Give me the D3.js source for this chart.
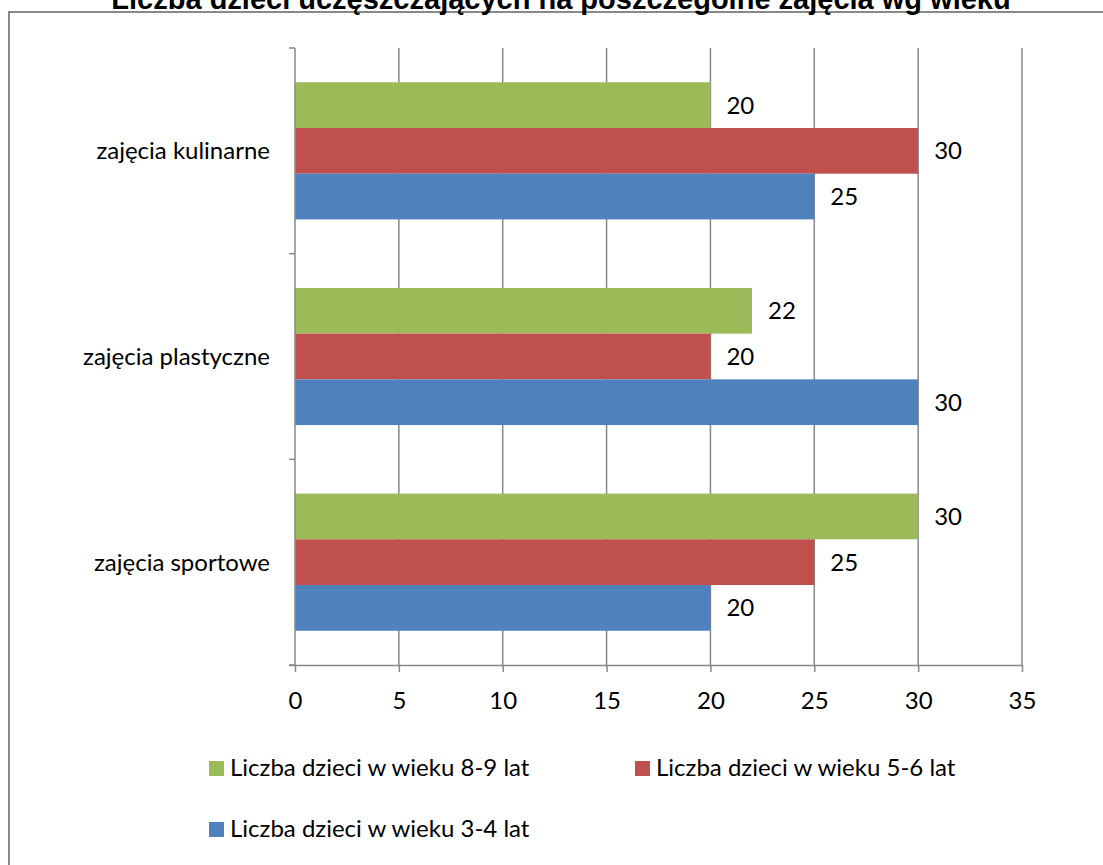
<!DOCTYPE html>
<html><head><meta charset="utf-8">
<script src="https://cdn.jsdelivr.net/npm/d3@7"></script>
<style>
html,body{margin:0;padding:0;background:#fff;}
svg{display:block;}
</style>
</head><body>
<svg id="chart" width="1103" height="865"></svg>
<script>
const title = "Liczba dzieci uczęszczających na poszczególne zajęcia wg wieku";
const categories = ["zajęcia kulinarne", "zajęcia plastyczne", "zajęcia sportowe"];
const seriesNames = ["Liczba dzieci w wieku 8-9 lat", "Liczba dzieci w wieku 5-6 lat", "Liczba dzieci w wieku 3-4 lat"];
const seriesColors = ["#9BBB59", "#C0504D", "#4F81BD"];
const age89 = [20, 22, 30];
const age56 = [30, 20, 25];
const age34 = [25, 30, 20];
const xTicks = [0, 5, 10, 15, 20, 25, 30, 35];

const seriesValues = [age89, age56, age34];
const svg = d3.select("#chart");
const font = "Lato, 'Open Sans', sans-serif";
const fs = 24;

// outer border
svg.append("path").attr("d", "M9,865 L9,12 L1103,12")
  .attr("fill", "none").attr("stroke", "#898989").attr("stroke-width", 2);

// title
svg.append("text").attr("x", 561).attr("y", 9).attr("text-anchor", "middle")
  .attr("font-family", "'Liberation Sans', Arial, sans-serif").attr("font-weight", "bold")
  .attr("font-size", 29).attr("fill", "#000").text(title);

const x = d3.scaleLinear().domain([0, 35]).range([295, 1022]);
const y = d3.scaleBand().domain(categories).range([48, 665]);
const inner = d3.scaleBand().domain(d3.range(3)).range([0, y.bandwidth()]).paddingOuter(0.75).paddingInner(0);

const gridColor = "#888888";

// gridlines
svg.append("g").selectAll("line").data(xTicks.slice(1)).join("line")
  .attr("x1", d => x(d)).attr("x2", d => x(d)).attr("y1", 48).attr("y2", 665)
  .attr("stroke", gridColor).attr("stroke-width", 1.5);

// bars
categories.forEach((c, ci) => {
  const g = svg.append("g");
  seriesValues.forEach((vals, si) => {
    g.append("rect")
      .attr("x", x(0)).attr("y", y(c) + inner(si))
      .attr("width", x(vals[ci]) - x(0)).attr("height", inner.bandwidth())
      .attr("fill", seriesColors[si]);
    g.append("text")
      .attr("x", x(vals[ci]) + 16).attr("y", y(c) + inner(si) + inner.bandwidth() / 2)
      .attr("dy", "0.35em").attr("font-family", font).attr("font-size", fs).attr("fill", "#000")
      .text(vals[ci]);
  });
});

// x axis
const xAxis = d3.axisBottom(x).tickValues(xTicks).tickSize(7).tickPadding(20).tickFormat(d3.format("d"));
const gx = svg.append("g").attr("transform", "translate(0,665)").call(xAxis);
gx.select(".domain").attr("stroke", gridColor).attr("stroke-width", 1.5).attr("d", "M289,0.5H1022");
gx.selectAll(".tick line").attr("stroke", gridColor).attr("stroke-width", 1.5);
gx.selectAll(".tick text").attr("font-family", font).attr("font-size", fs).attr("fill", "#000");

// y axis
const gy = svg.append("g");
gy.append("line").attr("x1", 295).attr("x2", 295).attr("y1", 48).attr("y2", 665)
  .attr("stroke", gridColor).attr("stroke-width", 1.5);
const yTickScale = d3.scaleLinear().domain([0, 3]).range([48, 665]);
gy.selectAll("line.t").data(d3.range(4)).join("line").attr("class", "t")
  .attr("x1", 289).attr("x2", 295).attr("y1", d => yTickScale(d)).attr("y2", d => yTickScale(d))
  .attr("stroke", gridColor).attr("stroke-width", 1.5);
gy.selectAll("text").data(categories).join("text")
  .attr("x", 270).attr("y", d => y(d) + y.bandwidth() / 2).attr("dy", "0.35em")
  .attr("text-anchor", "end").attr("font-family", font).attr("font-size", fs).attr("fill", "#000")
  .text(d => d);

// legend
const legendPos = [[209, 768], [635, 768], [209, 829]];
const lg = svg.append("g");
seriesNames.forEach((n, i) => {
  const [lx, ly] = legendPos[i];
  lg.append("rect").attr("x", lx).attr("y", ly - 7).attr("width", 15).attr("height", 15).attr("fill", seriesColors[i]);
  lg.append("text").attr("x", lx + 21).attr("y", ly).attr("dy", "0.35em")
    .attr("font-family", font).attr("font-size", fs).attr("fill", "#000").text(n);
});
</script>
</body></html>
